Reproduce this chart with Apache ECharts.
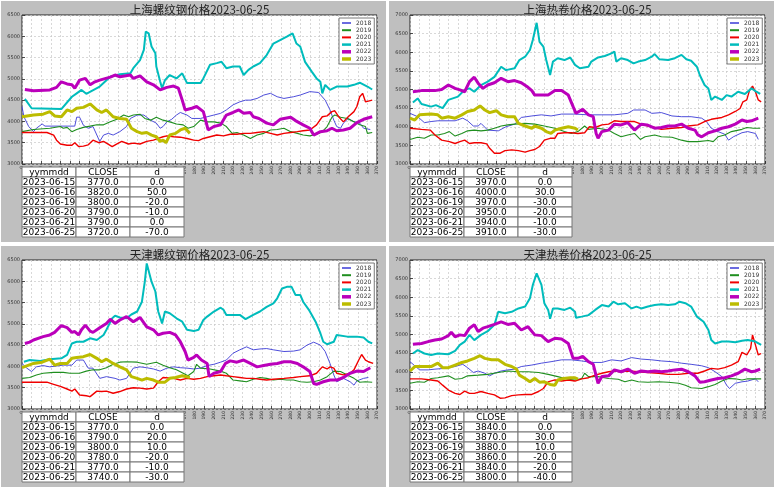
<!DOCTYPE html>
<html><head><meta charset="utf-8">
<script src="https://cdn.jsdelivr.net/npm/echarts@6.0.0/dist/echarts.min.js"></script>
<style>html,body{margin:0;padding:0;background:#fff}#c{width:777px;height:489px}</style>
</head><body><div id="c"></div>
<script>
const years = ['2018','2019','2020','2021','2022','2023'];
const titles = ['上海螺纹钢价格2023-06-25','上海热卷价格2023-06-25','天津螺纹钢价格2023-06-25','天津热卷价格2023-06-25'];
const yMaxes = [6500,7000,6500,7000];
const tableHeader = ['yymmdd','CLOSE','d'];
const tableDates = ['2023-06-15','2023-06-16','2023-06-19','2023-06-20','2023-06-21','2023-06-25'];
const shLwClose = [3770,3820,3800,3790,3790,3720];
const shLwD = [0,50,-20,-10,0,-70];
const shRjClose = [3970,4000,3970,3950,3940,3910];
const shRjD = [0,30,-30,-20,-10,-30];
const tjLwClose = [3770,3790,3800,3780,3770,3740];
const tjLwD = [0,20,10,-20,-10,-30];
const tjRjClose = [3840,3870,3880,3860,3840,3800];
const tjRjD = [0,30,10,-20,-20,-40];

// [day of year, price]
const shLw2018 = [[0,4350],[2,4110],[7,3880],[12,3760],[15,3840],[21,3940],[24,3890],[47,3890],[55,3890],[57,4100],[60,4100],[64,3910],[69,3840],[74,3880],[81,3530],[85,3680],[90,3720],[95,3680],[102,3760],[109,3880],[113,4070],[120,4150],[127,4150],[134,4030],[140,3960],[144,3840],[147,3880],[151,3990],[156,4050],[161,4150],[165,4210],[172,4150],[177,4070],[186,4070],[193,4110],[200,4150],[207,4190],[213,4270],[220,4390],[227,4460],[233,4500],[238,4500],[245,4540],[252,4620],[259,4660],[266,4580],[273,4540],[283,4580],[290,4620],[300,4700],[309,4680],[316,4500],[321,4270],[325,4030],[328,3880],[332,3840],[335,3960],[340,4070],[346,3990],[352,3960],[356,3840],[363,3810]];
const shLw2019 = [[0,3760],[12,3810],[29,3840],[40,3880],[43,3840],[47,3860],[52,3760],[57,3810],[64,3860],[71,3890],[78,3920],[85,3920],[92,3990],[99,4050],[106,4150],[111,4110],[116,4150],[123,4170],[128,4070],[134,4030],[140,4100],[147,4030],[154,3990],[161,3940],[168,3920],[173,3840],[179,3880],[186,4030],[193,3990],[200,3990],[207,3960],[213,3880],[219,3720],[224,3740],[231,3680],[238,3600],[245,3680],[252,3720],[259,3800],[266,3810],[273,3840],[280,3760],[287,3720],[293,3680],[300,3660],[307,3700],[313,3760],[318,3880],[323,4100],[326,4150],[332,4100],[339,4070],[346,3990],[352,3920],[358,3880],[360,3720],[365,3740]];
const shLw2020 = [[0,3740],[26,3740],[33,3680],[36,3560],[40,3470],[47,3440],[52,3440],[55,3500],[59,3410],[60,3370],[64,3420],[69,3450],[74,3560],[80,3500],[85,3530],[88,3490],[94,3410],[99,3470],[104,3530],[111,3470],[116,3490],[123,3470],[130,3530],[137,3560],[142,3600],[147,3640],[151,3660],[158,3640],[165,3630],[172,3600],[179,3560],[184,3550],[189,3600],[196,3640],[203,3680],[210,3660],[217,3700],[224,3700],[231,3720],[238,3720],[245,3740],[252,3760],[259,3720],[266,3680],[273,3720],[280,3740],[287,3760],[293,3780],[300,3800],[307,3920],[313,4110],[318,4130],[323,4230],[326,4250],[330,4110],[335,3990],[340,4110],[346,4230],[349,4350],[352,4580],[355,4660],[358,4460],[365,4500]];
const shLw2021 = [[3,4530],[10,4310],[41,4290],[52,4580],[57,4660],[62,4740],[67,4650],[81,4820],[92,5050],[102,5110],[113,5130],[116,5250],[123,5440],[127,5680],[129,6110],[132,6070],[135,5760],[139,5600],[140,5290],[144,4940],[146,4780],[149,4970],[154,5090],[161,5010],[167,5130],[172,4900],[186,4900],[189,5010],[196,5330],[203,5370],[208,5400],[213,5250],[220,5290],[227,5290],[231,5090],[236,5210],[241,5290],[248,5370],[255,5560],[262,5830],[269,5910],[276,5990],[282,6070],[286,5830],[290,5760],[295,5400],[302,5170],[307,5010],[311,4930],[313,4660],[316,4860],[321,4740],[328,4820],[339,4820],[346,4860],[352,4910],[360,4820],[365,4750]];
const shLw2022 = [[3,4750],[12,4720],[29,4740],[36,4800],[41,4930],[47,4880],[52,4860],[55,4780],[60,4970],[66,5010],[71,4860],[76,4930],[81,4970],[92,5040],[97,5090],[102,5050],[113,5090],[116,5010],[123,5070],[130,4930],[137,4860],[144,4740],[151,4800],[158,4830],[163,4780],[167,4500],[170,4270],[177,4310],[182,4350],[189,4230],[194,3800],[200,3880],[207,3920],[213,4150],[220,4210],[226,4270],[231,4190],[238,4210],[241,4110],[247,4070],[255,3960],[262,3920],[269,4050],[280,4100],[285,4020],[293,3920],[300,3840],[304,3680],[311,3760],[318,3780],[323,3840],[328,3780],[335,3800],[342,3840],[349,3970],[356,4050],[365,4110]];
const shLw2023 = [[0,4110],[12,4150],[22,4170],[29,4230],[34,4130],[41,4110],[47,4270],[52,4230],[57,4310],[64,4330],[71,4410],[78,4270],[83,4210],[88,4270],[95,4110],[102,4070],[109,4050],[114,3840],[120,3760],[125,3720],[130,3740],[135,3680],[140,3640],[144,3530],[147,3560],[150,3500],[154,3680],[160,3720],[165,3800],[170,3840],[175,3720]];

const shRj2018 = [[0,4360],[8,4270],[15,4110],[22,4140],[29,4160],[47,4160],[55,4230],[60,4160],[66,4020],[71,4020],[74,4090],[81,3910],[92,3890],[100,4000],[109,4070],[116,4250],[127,4290],[137,4320],[147,4290],[158,4340],[172,4340],[186,4320],[200,4320],[213,4320],[227,4360],[233,4450],[245,4450],[252,4360],[262,4380],[273,4290],[283,4270],[293,4270],[304,4230],[309,4140],[314,3960],[321,3870],[328,3800],[332,3640],[337,3730],[346,3840],[352,3870],[360,3820],[363,3660]];
const shRj2019 = [[0,3660],[8,3720],[15,3690],[22,3780],[29,3780],[36,3820],[41,3870],[47,3750],[54,3820],[60,3890],[67,3910],[74,3890],[81,3910],[88,3960],[95,4020],[102,4050],[109,4070],[120,4090],[130,4070],[140,4020],[151,3960],[161,3870],[168,3820],[175,3870],[182,4020],[186,3930],[196,3960],[207,3910],[213,3820],[220,3730],[227,3780],[234,3820],[240,3660],[245,3730],[255,3780],[262,3730],[273,3720],[283,3640],[290,3600],[300,3600],[311,3630],[316,3600],[321,3730],[328,3780],[335,3870],[346,3930],[351,3980],[358,3960],[365,3960]];
const shRj2020 = [[0,3960],[12,3930],[21,3910],[26,3780],[33,3640],[41,3600],[47,3550],[52,3600],[57,3640],[62,3550],[67,3570],[74,3570],[80,3540],[83,3420],[88,3290],[94,3290],[99,3360],[106,3380],[113,3360],[120,3320],[125,3360],[130,3390],[135,3470],[140,3640],[146,3690],[151,3690],[154,3820],[161,3840],[168,3840],[175,3820],[182,3840],[187,4000],[193,3980],[200,4050],[207,4070],[213,4160],[220,4140],[227,4140],[234,4140],[241,4070],[248,4020],[255,3980],[262,3930],[273,3960],[283,3980],[290,4020],[300,4050],[307,4140],[314,4200],[325,4250],[332,4320],[339,4410],[344,4490],[347,4670],[351,4720],[354,4990],[357,5090],[360,4940],[363,4720],[366,4670]];
const shRj2021 = [[3,4650],[8,4760],[12,4610],[22,4540],[27,4580],[34,4500],[40,4720],[50,4810],[57,4990],[62,5030],[67,4940],[74,5120],[81,5210],[88,5340],[95,5610],[100,5520],[109,5570],[114,5790],[120,5880],[125,6060],[128,6330],[132,6790],[135,6280],[139,6150],[142,5790],[146,5390],[149,5750],[154,5840],[161,5790],[167,5860],[172,5660],[177,5570],[186,5610],[189,5750],[196,5860],[203,5900],[210,5970],[213,6020],[215,5750],[220,5840],[227,5790],[233,5700],[238,5750],[245,5790],[252,5880],[255,5950],[260,5810],[269,5790],[276,5840],[283,5930],[288,5810],[293,5770],[299,5610],[302,5390],[307,5120],[311,5030],[314,4720],[318,4810],[325,4720],[330,4850],[335,4810],[342,4940],[349,4880],[356,5030],[361,4940],[365,4880]];
const shRj2022 = [[3,4940],[12,4970],[26,4970],[33,5000],[40,5120],[47,5030],[52,4990],[57,4940],[62,5210],[67,5330],[71,5170],[76,5030],[81,5120],[88,5180],[95,5300],[102,5210],[109,5240],[116,5180],[123,5060],[127,4970],[130,4850],[137,4850],[144,4850],[151,4970],[158,4970],[165,4850],[170,4540],[173,4360],[180,4470],[186,4320],[191,4270],[194,3820],[196,3690],[200,3870],[207,3910],[213,4070],[220,4050],[227,4110],[234,3910],[241,4070],[247,4050],[255,3960],[262,3980],[269,4020],[276,4020],[283,4070],[290,3960],[297,3910],[300,3780],[304,3730],[311,3840],[318,3890],[325,3960],[332,4000],[339,4070],[346,4180],[351,4140],[356,4160],[363,4230]];
const shRj2023 = [[0,4230],[5,4180],[10,4320],[22,4340],[29,4320],[33,4230],[40,4270],[47,4230],[54,4320],[60,4410],[67,4450],[73,4560],[78,4450],[83,4380],[90,4430],[95,4320],[102,4270],[109,4270],[113,4090],[120,4020],[127,3960],[130,4020],[137,3960],[142,3870],[147,3820],[151,3910],[158,3960],[165,4000],[172,3960],[175,3910]];

const tjLw2018 = [[0,4070],[5,3960],[10,3880],[15,3990],[22,4020],[29,3990],[43,4030],[52,4030],[57,4150],[64,4150],[69,3960],[74,3960],[81,3720],[88,3760],[97,3720],[102,3680],[109,3720],[116,3960],[123,3990],[130,3970],[137,3940],[144,3890],[151,3960],[158,3990],[165,3970],[172,3960],[179,3940],[186,3960],[193,4020],[200,4050],[207,4100],[213,4150],[220,4310],[227,4390],[234,4460],[241,4390],[248,4410],[255,4420],[262,4390],[273,4350],[283,4360],[290,4390],[297,4500],[304,4570],[311,4500],[316,4350],[321,4070],[325,3800],[328,3640],[335,3720],[342,3640],[346,3560],[349,3660],[356,3720],[361,3740]];
const tjLw2019 = [[0,3720],[8,3740],[15,3800],[22,3840],[33,3860],[43,3860],[50,3840],[60,3840],[67,3890],[74,3920],[81,3920],[88,3970],[95,4050],[102,4100],[109,4110],[120,4100],[130,4050],[140,4100],[147,4030],[154,3970],[161,3920],[168,3840],[173,3780],[179,3880],[182,4050],[186,3960],[196,3940],[207,3890],[213,3840],[220,3680],[227,3660],[234,3640],[241,3700],[248,3740],[255,3720],[262,3680],[269,3700],[276,3680],[283,3680],[290,3640],[297,3630],[304,3640],[311,3680],[318,3760],[325,3890],[332,3880],[339,3800],[346,3720],[352,3630],[358,3640],[365,3630]];
const tjLw2020 = [[0,3630],[26,3630],[33,3580],[40,3530],[47,3470],[52,3420],[55,3470],[60,3330],[67,3310],[71,3290],[78,3420],[83,3410],[88,3420],[95,3370],[102,3410],[109,3470],[116,3500],[123,3490],[130,3470],[137,3490],[142,3640],[147,3740],[158,3720],[165,3680],[172,3720],[179,3700],[186,3720],[193,3760],[200,3780],[207,3800],[213,3780],[220,3760],[227,3740],[234,3720],[241,3720],[248,3700],[255,3680],[262,3700],[273,3720],[283,3740],[290,3760],[300,3780],[307,3840],[313,3990],[318,3940],[321,3990],[325,3960],[328,3840],[335,3800],[342,3840],[346,3920],[351,4150],[354,4280],[358,4150],[361,4110],[366,4070]];
const tjLw2021 = [[2,4110],[8,4150],[19,4130],[29,4170],[41,4190],[47,4270],[52,4540],[57,4580],[64,4580],[71,4660],[78,4620],[85,4740],[88,4860],[94,5130],[97,5190],[102,5150],[109,5130],[114,5220],[120,5290],[125,5520],[128,5990],[130,6420],[132,6380],[135,5990],[139,5760],[142,5290],[146,5010],[149,5290],[154,5250],[161,5130],[167,5050],[172,4860],[179,4830],[184,4860],[189,5090],[193,5170],[200,5290],[207,5380],[210,5330],[213,5210],[220,5210],[227,5210],[233,5110],[241,5210],[248,5290],[255,5400],[262,5480],[266,5600],[271,5830],[276,5870],[281,5870],[285,5680],[290,5680],[293,5520],[299,5330],[306,5050],[311,4780],[314,4580],[318,4520],[325,4580],[328,4740],[339,4700],[349,4700],[356,4680],[361,4580],[365,4540]];
const tjLw2022 = [[3,4540],[8,4570],[12,4620],[22,4700],[29,4740],[34,4800],[41,4960],[47,4910],[52,4800],[55,4820],[59,4740],[62,4860],[66,4970],[71,4830],[74,4800],[81,4910],[88,5010],[92,5110],[97,5010],[102,5090],[109,5170],[116,5050],[123,5150],[130,4930],[137,4860],[142,4740],[147,4780],[154,4800],[160,4740],[165,4580],[170,4350],[173,4150],[179,4210],[182,4270],[187,4150],[193,4070],[195,3760],[200,3840],[207,3880],[212,4070],[217,4130],[224,4100],[231,4150],[238,4070],[245,3990],[252,4020],[259,4050],[266,4070],[273,4110],[280,4110],[287,4070],[293,3990],[300,3880],[304,3600],[307,3580],[314,3640],[321,3680],[328,3680],[335,3740],[342,3840],[349,3890],[356,3880],[363,3970]];
const tjLw2023 = [[0,3970],[12,4070],[21,4100],[29,4170],[34,4030],[40,4070],[47,4070],[52,4190],[57,4210],[64,4230],[71,4280],[78,4190],[83,4110],[88,4170],[95,4070],[102,3990],[109,3920],[114,3760],[120,3720],[125,3680],[130,3720],[137,3680],[142,3630],[149,3630],[154,3720],[160,3740],[167,3780],[175,3740]];

const tjRj2018 = [[0,4270],[5,4160],[10,4050],[19,4050],[26,4070],[36,4090],[47,4140],[55,4200],[60,4110],[66,3980],[71,4020],[78,3960],[83,3890],[88,3960],[95,4020],[102,4050],[109,4070],[116,4140],[127,4180],[137,4230],[147,4270],[158,4320],[168,4320],[179,4290],[189,4250],[200,4250],[210,4320],[220,4290],[231,4380],[241,4340],[252,4320],[262,4290],[273,4270],[283,4230],[293,4200],[304,4160],[311,4110],[318,4000],[325,3870],[330,3640],[333,3550],[339,3690],[346,3730],[352,3750],[360,3810],[363,3730]];
const tjRj2019 = [[0,3690],[8,3730],[15,3720],[22,3820],[29,3840],[40,3890],[47,3800],[54,3820],[60,3890],[71,3910],[81,3930],[92,3980],[102,4020],[113,4000],[123,4000],[134,3980],[144,3930],[154,3870],[165,3800],[172,3780],[179,3820],[182,3960],[186,3870],[196,3870],[207,3820],[217,3800],[224,3730],[231,3780],[238,3730],[248,3720],[259,3730],[269,3720],[280,3690],[287,3640],[293,3570],[304,3550],[311,3600],[318,3660],[325,3750],[332,3820],[339,3810],[346,3780],[352,3810],[360,3810],[366,3810]];
const tjRj2020 = [[0,3810],[12,3810],[22,3780],[29,3750],[34,3640],[40,3510],[47,3420],[52,3390],[57,3480],[62,3420],[67,3420],[74,3470],[81,3420],[88,3380],[94,3290],[99,3300],[106,3360],[113,3380],[120,3390],[127,3390],[134,3470],[139,3550],[144,3730],[151,3780],[158,3750],[165,3780],[172,3750],[179,3810],[186,3840],[193,3910],[200,3960],[207,4000],[213,4020],[220,4000],[227,4020],[238,4000],[248,3980],[259,3960],[269,3930],[280,3930],[290,3960],[300,3960],[307,4020],[314,4090],[321,4070],[328,4110],[335,4180],[342,4270],[346,4520],[351,4450],[355,4630],[357,4990],[360,4720],[363,4450],[366,4490]];
const tjRj2021 = [[3,4490],[8,4580],[15,4490],[22,4450],[29,4490],[40,4470],[47,4560],[52,4720],[57,4810],[62,4990],[67,4850],[74,4990],[81,5090],[88,5260],[92,5610],[99,5570],[106,5610],[113,5700],[120,5750],[125,5970],[128,6330],[132,6640],[134,6600],[137,6330],[140,5840],[144,5660],[146,5420],[149,5700],[154,5700],[161,5660],[167,5720],[172,5610],[173,5450],[179,5480],[186,5520],[193,5660],[200,5790],[207,5750],[212,5880],[217,5810],[224,5840],[231,5700],[236,5750],[241,5700],[248,5750],[255,5790],[262,5810],[269,5790],[276,5810],[281,5880],[287,5840],[293,5750],[299,5480],[306,5340],[311,5120],[314,4850],[318,4760],[325,4810],[332,4810],[339,4790],[346,4830],[352,4850],[360,4810],[366,4720]];
const tjRj2022 = [[3,4740],[12,4760],[19,4810],[26,4850],[33,4880],[40,4970],[43,5060],[47,4940],[52,4990],[57,4970],[62,5170],[67,5260],[71,5080],[76,5170],[81,5210],[88,5270],[95,5340],[102,5270],[109,5300],[116,5120],[123,5210],[130,4990],[137,4970],[144,4810],[151,4900],[158,4880],[165,4760],[170,4360],[175,4360],[180,4410],[186,4270],[191,4200],[196,3690],[200,3870],[207,3890],[213,4050],[220,4000],[227,4070],[234,3960],[241,4020],[248,4000],[255,4020],[262,4000],[269,4020],[276,4050],[283,4070],[290,4000],[297,3890],[302,3720],[307,3730],[314,3780],[321,3820],[328,3840],[335,3890],[342,3960],[349,4070],[356,4000],[360,4020],[365,4070]];
const tjRj2023 = [[0,4020],[5,4140],[12,4140],[22,4140],[29,4230],[34,4110],[40,4110],[47,4180],[54,4250],[60,4290],[67,4360],[73,4430],[78,4360],[85,4320],[92,4320],[99,4200],[106,4140],[111,4070],[114,3910],[120,3820],[125,3730],[130,3820],[135,3720],[140,3730],[146,3660],[151,3640],[154,3780],[160,3820],[167,3840],[172,3840],[175,3800]];

const panelSeries = [
  [shLw2018, shLw2019, shLw2020, shLw2021, shLw2022, shLw2023],
  [shRj2018, shRj2019, shRj2020, shRj2021, shRj2022, shRj2023],
  [tjLw2018, tjLw2019, tjLw2020, tjLw2021, tjLw2022, tjLw2023],
  [tjRj2018, tjRj2019, tjRj2020, tjRj2021, tjRj2022, tjRj2023]
];
const panelClose = [shLwClose, shRjClose, tjLwClose, tjRjClose];
const panelD = [shLwD, shRjD, tjLwD, tjRjD];

const colors = ['#3a3ad6','#1f8f1f','#f00000','#00bcbc','#bb00bb','#bcbc00'];
const widths = [0.9, 1.1, 1.4, 2, 3, 3];
const legendH = [1.5, 2, 2, 2.5, 3.5, 3.5];
const origins = [[0,0],[388,0],[0,245],[388,245]];

const grids=[], xAxes=[], yAxes=[], series=[], titleArr=[], legends=[], graphics=[];
origins.forEach(([ox,oy],p)=>{
  graphics.push({type:'rect', z:-100, shape:{x:ox+1,y:oy+1,width:385,height:241}, style:{fill:'#bfbfbf'}});
  grids.push({left:ox+22, top:oy+15, width:355, height:149, show:true, backgroundColor:'#fff', borderColor:'#222', borderWidth:1});
  xAxes.push({gridIndex:p, type:'value', min:0, max:370, interval:10,
    axisLine:{show:false}, axisTick:{show:true, inside:true, length:3, lineStyle:{color:'#222',width:0.8}},
    axisLabel:{fontSize:4.5, rotate:90, margin:2, color:'#333', fontFamily:'DejaVu Sans', formatter:v=>String(v)},
    splitLine:{show:true, lineStyle:{color:'#c8c8c8', type:[2,2], width:0.7}}});
  yAxes.push({gridIndex:p, type:'value', min:3000, max:yMaxes[p], interval:500,
    axisLine:{show:false}, axisTick:{show:true, inside:true, length:3, lineStyle:{color:'#222',width:0.8}},
    axisLabel:{fontSize:5, margin:2, color:'#333', fontFamily:'DejaVu Sans', formatter:v=>String(v)},
    splitLine:{show:true, lineStyle:{color:'#c8c8c8', type:[2,2], width:0.7}}});
  panelSeries[p].forEach((d,i)=>{
    series.push({name:years[i], type:'line', xAxisIndex:p, yAxisIndex:p, data:d, symbol:'none',
      lineStyle:{color:colors[i], width:widths[i]}, itemStyle:{color:colors[i]}, z:2+i, silent:true});
  });
  titleArr.push({text:titles[p], left:ox+199.5, top:oy+4, textAlign:'center', padding:0,
    textStyle:{fontSize:11.5, fontWeight:'normal', color:'#222', fontFamily:'Noto Sans CJK SC'}});
  legends.push({data:years.map((y,i)=>({name:y, icon:'path://M0,0 L9,0 L9,'+legendH[i]+' L0,'+legendH[i]+' Z'})),
    orient:'vertical', left:ox+339, top:oy+18, padding:[2,3,2,3], itemGap:1.2,
    itemWidth:9, itemHeight:6, backgroundColor:'#fff', borderColor:'#555', borderWidth:0.8,
    textStyle:{fontSize:6, color:'#333', fontFamily:'DejaVu Sans'}, selectedMode:false});
  // table
  const tx=ox+22, ty=oy+167, cw=54, rh=10;
  const rows=[tableHeader].concat(tableDates.map((dt,r)=>[dt, panelClose[p][r].toFixed(1), panelD[p][r].toFixed(1)]));
  rows.forEach((row,r)=>{
    row.forEach((cell,c)=>{
      graphics.push({type:'rect', z:100, shape:{x:tx+c*cw, y:ty+r*rh, width:cw, height:rh},
        style:{fill:'#fff', stroke:'#777', lineWidth:1}});
      graphics.push({type:'text', z:101, x:tx+c*cw+cw/2, y:ty+r*rh+rh/2+0.5,
        style:{text:cell, fill:'#000', font:'9px "DejaVu Sans"', textAlign:'center', textVerticalAlign:'middle'}});
    });
  });
});

const chart = echarts.init(document.getElementById('c'), null, {renderer:'canvas'});
chart.setOption({animation:false, backgroundColor:'#fff', title:titleArr, legend:legends,
  grid:grids, xAxis:xAxes, yAxis:yAxes, series:series, graphic:{elements:graphics}});
</script></body></html>
